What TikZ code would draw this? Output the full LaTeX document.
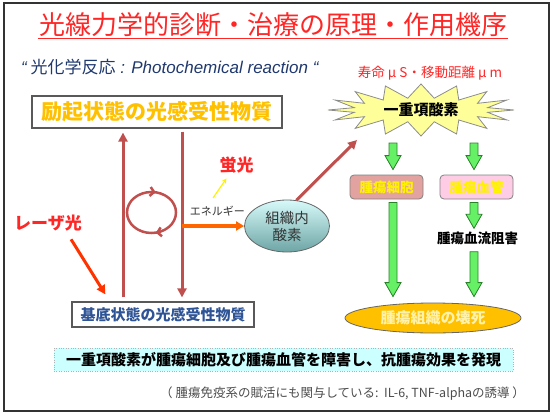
\documentclass[tikz,border=0pt]{standalone}
\usepackage{fontspec}
\setmainfont{Noto Sans CJK JP}
\newfontfamily\latfont{Liberation Sans}
\usetikzlibrary{shapes.geometric,arrows.meta,calc,decorations.markings}

\definecolor{titlered}{RGB}{255,38,38}
\definecolor{navy}{RGB}{31,56,110}
\definecolor{gold}{RGB}{255,192,0}
\definecolor{steel}{RGB}{47,84,150}
\definecolor{brick}{RGB}{192,80,77}
\definecolor{laser}{RGB}{255,51,0}
\definecolor{energy}{RGB}{255,102,0}
\definecolor{lightgreen}{RGB}{102,240,102}
\definecolor{darkgreen}{RGB}{40,130,40}
\definecolor{cellpink}{RGB}{226,163,160}
\definecolor{vesselpink}{RGB}{255,204,230}
\definecolor{bandcyan}{RGB}{204,255,255}
\definecolor{staryellow}{RGB}{255,255,153}
\definecolor{paleyellow}{RGB}{255,242,170}
\definecolor{oxytop}{RGB}{215,250,250}
\definecolor{oxybottom}{RGB}{110,165,165}

\tikzstyle{statebox}=[rectangle, draw=black!65, line width=1.2pt, inner sep=0pt]
\tikzstyle{tumorbox}=[rectangle, rounded corners=4pt, draw=black!50, line width=0.8pt,
                      minimum width=73pt, minimum height=24pt, text=yellow,
                      font=\fontsize{13.5}{14}\selectfont\bfseries]
\tikzstyle{redline}=[draw=brick, line width=3pt, -{Triangle[length=9pt,width=9pt]}]
\tikzstyle{greenarrow}=[fill=lightgreen, draw=darkgreen, line width=0.8pt,
  to path={let \p1=(\tikztostart), \p2=(\tikztotarget) in
    (\x1-4pt,\y1) -- (\x1+4pt,\y1) -- (\x1+4pt,\y2+14pt) -- (\x1+8pt,\y2+14pt)
    -- (\x1,\y2) -- (\x1-8pt,\y2+14pt) -- (\x1-4pt,\y2+14pt) -- cycle}]

\begin{document}
\begin{tikzpicture}[x=1pt, y=-1pt]
\useasboundingbox (0,0) rectangle (554,415);
%%%%%%%%%%%%%%%%%%%%%%%%%%%%%%
% frame and headings

\draw[black!80, line width=1.3pt] (4,3) rectangle (549,411);

\node (title) at (273,25) [inner sep=1pt, text=titlered, font=\fontsize{26}{30}\selectfont] {光線力学的診断・治療の原理・作用機序};
\draw[titlered, line width=1.5pt] (title.south west) -- (title.south east);

\node (subtitle) at (21,67) [anchor=west, inner sep=0pt, text=navy, font=\fontsize{17}{18}\selectfont]
  {{\latfont\itshape “} 光化学反応{\latfont\itshape\ : Photochemical reaction “}};

\node (lifetime) at (430,73) [text=titlered, font=\fontsize{13.5}{14}\selectfont] {寿命 μ S・移動距離 μ m};

%%%%%%%%%%%%%%%%%%%%%%%%%%%%%%
% nodes

% photosensitizer
\node (excited) at (157,112) [statebox, minimum width=250pt, minimum height=32pt, text=gold,
  font=\fontsize{21}{22}\selectfont\bfseries] {励起状態の光感受性物質};

\node (ground) at (163,314.5) [statebox, minimum width=182pt, minimum height=25pt, text=steel,
  font=\fontsize{15}{16}\selectfont\bfseries] {基底状態の光感受性物質};

\coordinate (upline) at (123,0);
\coordinate (downline) at (182,0);

\node (laser) at (48,223) [inner sep=1pt, text=titlered, font=\fontsize{17}{18}\selectfont\bfseries] {レーザ光};

\node (fluor) at (236.5,165) [inner sep=1pt, text=titlered, font=\fontsize{17}{18}\selectfont\bfseries] {蛍光};
\coordinate (fluorsrc) at (213,198);

\node (oxygen) at (287,226) [ellipse, draw=black!60, line width=0.8pt, minimum width=85pt, minimum height=52pt,
  inner sep=0pt, top color=oxytop, bottom color=oxybottom, align=center, text=black!80,
  font=\fontsize{14.5}{17}\selectfont] {組織内\\酸素};

% singlet oxygen (spiky burst)
\coordinate (burst) at (421,110);
\draw[draw=black!45, fill=staryellow, line width=0.8pt] ($(burst)+(0:93 and 26)$)
  \foreach \k [evaluate=\k as \rx using {isodd(\k) ? 68 : 93},
               evaluate=\k as \ry using {isodd(\k) ? 12 : 26}] in {1,...,31}
  { -- ($(burst)+({\k*11.25}:{\rx} and {\ry})$) } -- cycle;
\node (singlet) at (burst) [inner sep=1pt, font=\fontsize{15}{16}\selectfont\bfseries] {一重項酸素};

\coordinate (leftcol) at (393,0);
\coordinate (rightcol) at (474,0);

\node (cell) at (386.5,187) [tumorbox, fill=cellpink] {腫瘍細胞};
\node (vessel) at (476.5,187) [tumorbox, fill=vesselpink] {腫瘍血管};

\node (flow) at (477.5,238) [inner sep=1pt, font=\fontsize{13.5}{14}\selectfont\bfseries] {腫瘍血流阻害};

\node (necrosis) at (433,318) [ellipse, draw=black!60, line width=0.8pt, fill=gold, minimum width=176pt,
  minimum height=30pt, inner sep=0pt, text=paleyellow, font=\fontsize{15}{16}\selectfont\bfseries] {腫瘍組織の壊死};

% summary
\node (band) at (283.5,359.5) [fill=bandcyan, draw=black!30, dotted, minimum width=459pt, minimum height=23pt,
  font=\fontsize{15}{16}\selectfont\bfseries] {一重項酸素が腫瘍細胞及び腫瘍血管を障害し、抗腫瘍効果を発現};

\node (note) at (160,394) [anchor=west, inner sep=0pt, text=black!70, font=\fontsize{12.5}{13}\selectfont]
  {（ 腫瘍免疫系の賦活にも関与している:\ \ IL-6, TNF-alphaの誘導 ）};

%%%%%%%%%%%%%%%%%%%%%%%%%%%%%%
% links

\draw[redline, shorten <=4pt, shorten >=4pt] (ground.north -| upline) -- (excited.south -| upline);
\draw[redline, shorten <=3pt, shorten >=4pt] (excited.south -| downline) -- (ground.north -| downline);

\draw[brick, line width=2.5pt, postaction=decorate,
  decoration={markings,
    mark=at position 0.22 with {\arrow{Straight Barb[length=4pt,width=9pt]}},
    mark=at position 0.78 with {\arrow{Straight Barb[length=4pt,width=9pt]}}}]
  (151.5,212.5) ellipse [x radius=24.5, y radius=20.5];

\draw[laser, line width=3pt, -{Triangle[length=9pt,width=9pt]}] ($(laser.south east)+(-12,7)$) -- ($(ground.north west)+(34,-7)$);

\draw[yellow, line width=1.2pt, -{Stealth[length=5pt,width=5pt]}] (fluorsrc) -- ($(fluor.south)+(-10,4)$);

\draw[energy, line width=3.5pt, -{Triangle[length=8pt,width=9pt]}] (oxygen.west -| downline) -- (oxygen.west)
  node[pos=0.57, above=5pt, text=black!80, font=\fontsize{11}{12}\selectfont] {エネルギー};

\draw[redline] (oxygen.70) -- ($(singlet.center)+(-64,30)$);

\draw[greenarrow] ($(singlet.center -| leftcol)+(0,33)$) to ($(cell.north -| leftcol)+(0,-5)$);
\draw[greenarrow] ($(singlet.center -| rightcol)+(0,33)$) to ($(vessel.north -| rightcol)+(0,-5)$);
\draw[greenarrow] ($(cell.south -| leftcol)+(0,3)$) to ($(necrosis.north -| leftcol)+(0,-6)$);
\draw[greenarrow] ($(vessel.south -| rightcol)+(0,3)$) to ($(flow.north -| rightcol)+(0,-2)$);
\draw[greenarrow] ($(flow.south -| rightcol)+(0,6)$) to ($(necrosis.north -| rightcol)+(0,-6)$);

\end{tikzpicture}
\end{document}
